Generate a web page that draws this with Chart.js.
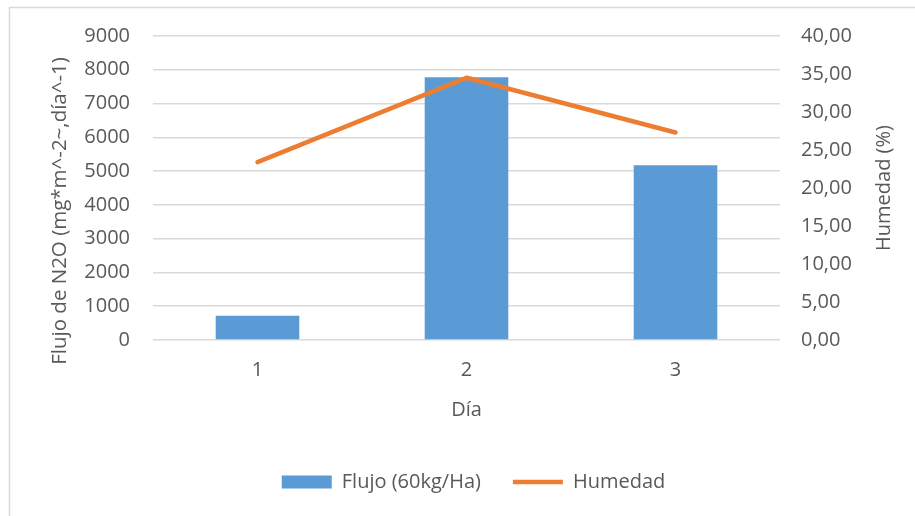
<!DOCTYPE html>
<html>
<head>
<meta charset="utf-8">
<script src="https://cdn.jsdelivr.net/npm/chart.js@4/dist/chart.umd.min.js"></script>
<style>
  html, body { margin: 0; padding: 0; background: #ffffff; }
  canvas { display: block; }
</style>
</head>
<body>
<canvas id="c" width="915" height="516"></canvas>
<script>
// Días de muestreo
const dias = ['1', '2', '3'];
// Flujo de N2O por día (mg·m^-2·día^-1)
const flujo = [720, 7780, 5170];
// Humedad del suelo (%)
const humedad = [23.4, 34.5, 27.3];

const seriesFlujo = 'Flujo (60kg/Ha)';
const seriesHumedad = 'Humedad';
const tituloY = 'Flujo de N2O (mg*m^-2~,día^-1)';
const tituloY2 = 'Humedad (%)';
const tituloX = 'Día';

const FONT = '"Open Sans", "Liberation Sans", sans-serif';
const TEXT = '#595959';
const GRID = '#d9d9d9';

// Fondo blanco, marco exterior y títulos verticales de los ejes
const frame = {
  id: 'frame',
  beforeDraw(chart) {
    const ctx = chart.ctx;
    ctx.save();
    ctx.fillStyle = '#ffffff';
    ctx.fillRect(0, 0, chart.width, chart.height);
    ctx.strokeStyle = GRID;
    ctx.lineWidth = 1.5;
    ctx.beginPath();
    ctx.moveTo(9.5, chart.height);
    ctx.lineTo(9.5, 7.5);
    ctx.lineTo(chart.width, 7.5);
    ctx.stroke();
    ctx.restore();
  },
  afterDraw(chart) {
    const ctx = chart.ctx;
    const area = chart.chartArea;
    ctx.save();
    ctx.fillStyle = TEXT;
    ctx.font = '20.5px ' + FONT;
    ctx.textAlign = 'center';
    ctx.textBaseline = 'middle';
    ctx.translate(60, 211);
    ctx.rotate(-Math.PI / 2);
    ctx.fillText(tituloY, 0, 0);
    ctx.restore();
    ctx.save();
    ctx.fillStyle = TEXT;
    ctx.font = '20px ' + FONT;
    ctx.textAlign = 'center';
    ctx.textBaseline = 'middle';
    ctx.translate(884, (area.top + area.bottom) / 2);
    ctx.rotate(-Math.PI / 2);
    ctx.fillText(tituloY2, 0, 0);
    ctx.restore();
  }
};

new Chart(document.getElementById('c'), {
  type: 'bar',
  data: {
    labels: dias,
    datasets: [
      {
        type: 'bar',
        label: seriesFlujo,
        data: flujo,
        yAxisID: 'y',
        backgroundColor: '#5b9bd5',
        borderWidth: 0,
        barPercentage: 0.4,
        categoryPercentage: 1.0,
        pointStyle: 'rect',
        order: 2
      },
      {
        type: 'line',
        label: seriesHumedad,
        data: humedad,
        yAxisID: 'y2',
        borderColor: '#ed7d31',
        backgroundColor: '#ed7d31',
        borderWidth: 4.5,
        borderCapStyle: 'round',
        borderJoinStyle: 'round',
        pointRadius: 0,
        pointHoverRadius: 0,
        pointStyle: 'line',
        tension: 0,
        order: 1
      }
    ]
  },
  options: {
    responsive: false,
    animation: false,
    devicePixelRatio: 1,
    layout: { padding: { top: 36, left: 32, right: 0, bottom: 14 } },
    plugins: {
      tooltip: { enabled: false },
      legend: {
        position: 'bottom',
        labels: {
          usePointStyle: true,
          pointStyleWidth: 50,
          boxHeight: 13,
          padding: 32,
          color: TEXT,
          font: { family: FONT, size: 20 },
          sort: (a, b) => a.datasetIndex - b.datasetIndex
        }
      }
    },
    scales: {
      x: {
        grid: { display: false },
        border: { display: false },
        ticks: { color: TEXT, font: { family: FONT, size: 20 }, padding: 10 },
        title: {
          display: true,
          text: tituloX,
          color: TEXT,
          font: { family: FONT, size: 20 },
          padding: { top: 0, bottom: 18 }
        },
        afterFit(scale) { scale.height = 100; }
      },
      y: {
        position: 'left',
        min: 0,
        max: 9000,
        ticks: {
          stepSize: 1000,
          color: TEXT,
          font: { family: FONT, size: 20 },
          padding: 23,
          callback: (v) => String(v)
        },
        grid: { color: GRID, lineWidth: 1.5, drawTicks: false },
        border: { display: false },
        afterFit(scale) { scale.width = 121; }
      },
      y2: {
        position: 'right',
        min: 0,
        max: 40,
        ticks: {
          stepSize: 5,
          color: TEXT,
          font: { family: FONT, size: 20 },
          padding: 21,
          callback: (v) => v.toFixed(2).replace('.', ',')
        },
        grid: { display: false, drawTicks: false },
        border: { display: false },
        afterFit(scale) { scale.width = 135; }
      }
    }
  },
  plugins: [frame]
});
</script>
</body>
</html>
